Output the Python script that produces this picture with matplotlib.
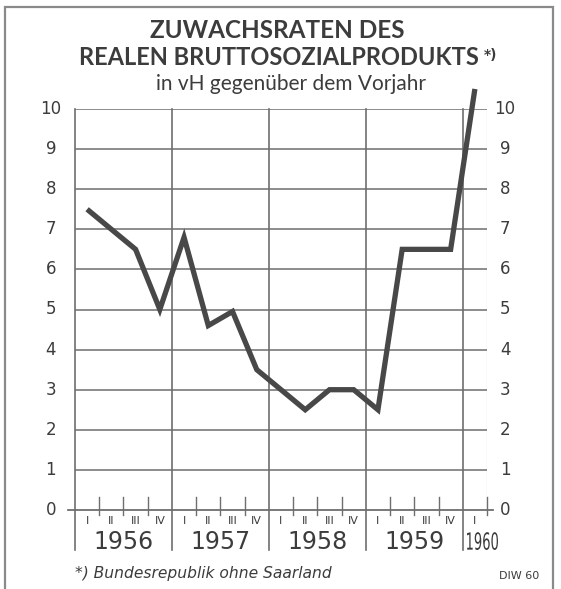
import matplotlib
matplotlib.use("Agg")
import matplotlib.pyplot as plt
from matplotlib.patches import Rectangle, PathPatch
from matplotlib.textpath import TextPath
from matplotlib.font_manager import FontProperties
from matplotlib.transforms import Affine2D

# quarterly growth rates, 1956 I .. 1960 I
quarters = ["I", "II", "III", "IV"]
years = ["1956", "1957", "1958", "1959", "1960"]
growth = [7.5, 7.0, 6.5, 5.0,
          6.8, 4.6, 4.95, 3.5,
          3.0, 2.5, 3.0, 3.0,
          2.5, 6.5, 6.5, 6.5,
          10.5]
y_ticks = list(range(0, 11))

INK = "#3c3c3c"
GRID = "#6e6e6e"

fig = plt.figure(figsize=(5.61, 5.89), dpi=100)
ax = fig.add_axes([75 / 561, 79 / 589, 412 / 561, 401 / 589])
ax.set_xlim(0, 17)
ax.set_ylim(0, 10)
ax.axis("off")

# horizontal grid
for v in y_ticks[1:]:
    ax.plot([0, 17], [v, v], color=GRID, lw=1.1, zorder=1)
ax.plot([17, 17], [0, 10], color="#9a9a9a", lw=0.8, zorder=1)
# zero line, a bit longer
ax.plot([-0.3, 17.25], [0, 0], color=GRID, lw=1.3, clip_on=False, zorder=1)

# year dividers running down through the labels
for i in range(len(years)):
    ax.plot([i * 4, i * 4], [10, -1.0], color=GRID, lw=1.2, clip_on=False, zorder=1)

# quarter ticks and roman numerals
for q in range(17):
    if q % 4 != 0:
        ax.plot([q, q], [-0.12, 0.32], color=GRID, lw=1.0, clip_on=False)
    ax.text(q + 0.5, -0.27, quarters[q % 4], ha="center", va="center",
            fontsize=8, color=INK, family="DejaVu Sans")
ax.plot([17, 17], [-0.12, 0.32], color=GRID, lw=1.0, clip_on=False)

for i, yr in enumerate(years[:-1]):
    ax.text(i * 4 + 2, -0.8, yr, ha="center", va="center", fontsize=17,
            color=INK, family="DejaVu Sans")

# 1960 is squeezed into the narrow last column
tp = TextPath((0, 0), years[-1], size=17, prop=FontProperties(family="DejaVu Sans"))
bb = tp.get_extents()
sx = 31 / (bb.width * 100 / 72)
tr = (Affine2D().translate(-bb.x0, -bb.y0).scale(sx / 72, 1 / 72)
      .translate(467 / 100, (589 - 550) / 100) + fig.dpi_scale_trans)
fig.patches.append(PathPatch(tp, transform=tr, facecolor=INK, edgecolor="none"))

# y labels both sides
for v in y_ticks:
    ax.text(-1.0, v, str(v), ha="center", va="center", fontsize=12,
            color=INK, family="DejaVu Sans")
    ax.text(17.75, v, str(v), ha="center", va="center", fontsize=12,
            color=INK, family="DejaVu Sans")

# the series at quarter centres
xs = [i + 0.5 for i in range(len(growth))]
ax.plot(xs, growth, color="#484848", lw=3.8, solid_joinstyle="miter",
        solid_capstyle="butt", clip_on=False, zorder=3)

# titles
fig.text(0.494, 0.948, "ZUWACHSRATEN DES", ha="center", va="center",
         fontsize=17.5, fontweight="bold", color=INK, family="Lato")
fig.text(0.497, 0.902, "REALEN BRUTTOSOZIALPRODUKTS", ha="center", va="center",
         fontsize=17, fontweight="bold", color=INK, family="Lato")
fig.text(0.862, 0.907, "*)", ha="left", va="center", fontsize=10,
         fontweight="bold", color=INK, family="DejaVu Sans")
fig.text(0.519, 0.858, "in vH gegenüber dem Vorjahr", ha="center", va="center",
         fontsize=15, color=INK, family="Lato")

# footnote
fig.text(0.133, 0.027, "*) Bundesrepublik ohne Saarland", ha="left", va="center",
         fontsize=11.2, style="italic", color=INK, family="DejaVu Sans")
fig.text(0.925, 0.022, "DIW 60", ha="center", va="center", fontsize=8,
         color=INK, family="DejaVu Sans")

# outer frame
fig.patches.append(Rectangle((5 / 561, -0.02), 548 / 561, 1.0 - 7 / 589 + 0.02,
                             transform=fig.transFigure, fill=False,
                             edgecolor="#8a8a8a", lw=1.6))

fig.savefig("out.png", dpi=100)
